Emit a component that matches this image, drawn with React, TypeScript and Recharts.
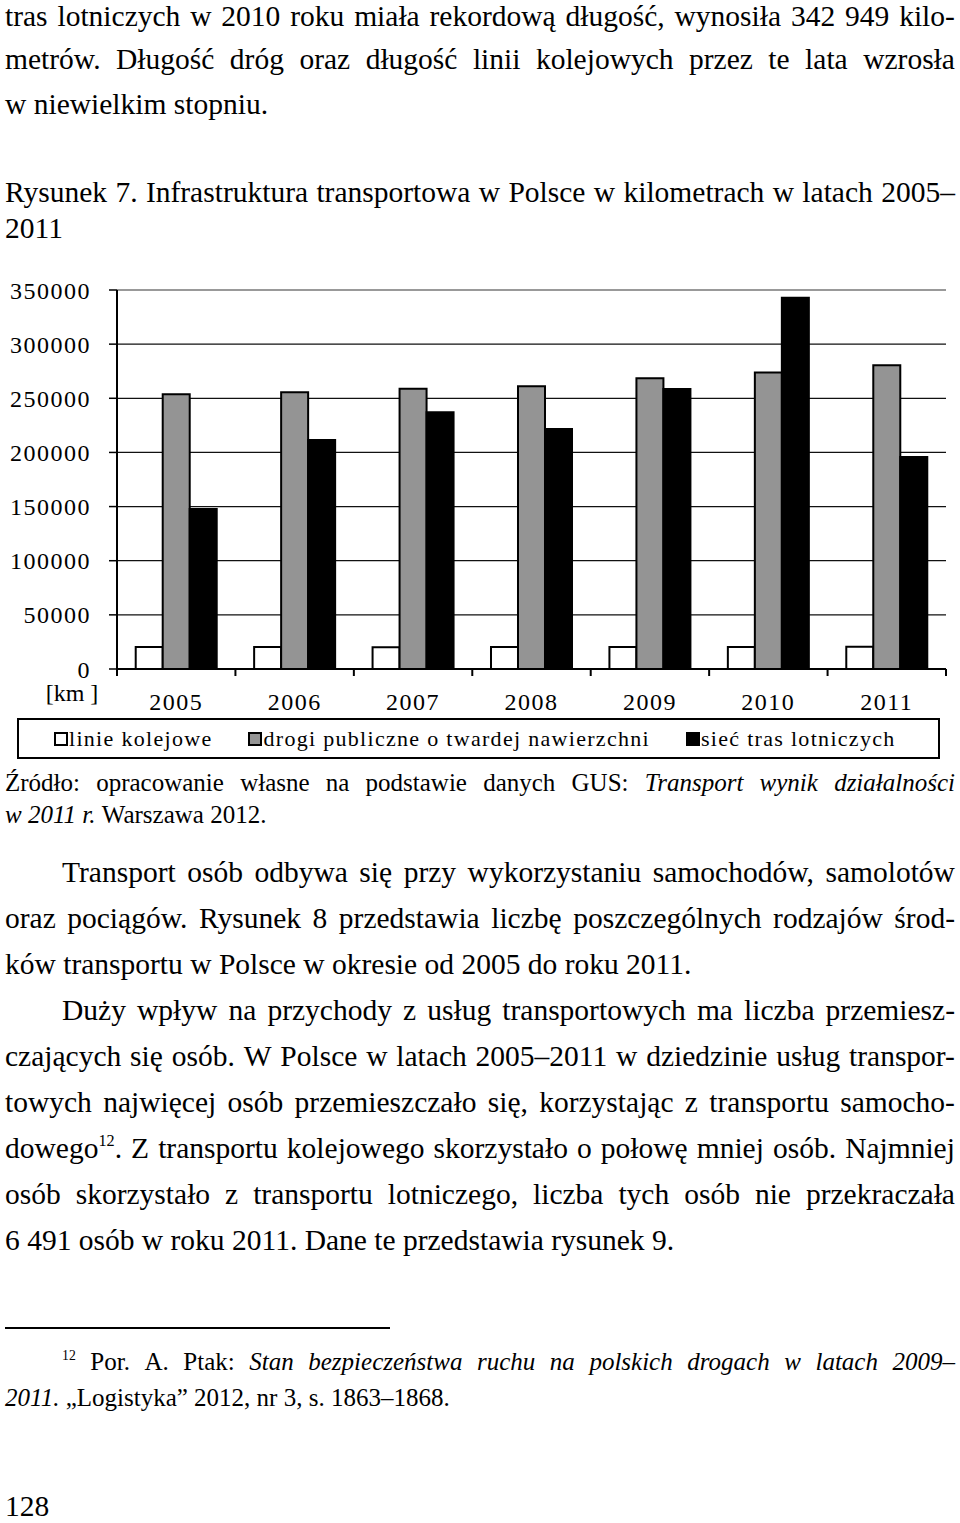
import React from 'react';
import { Bar, BarChart, CartesianGrid, Legend, ReferenceLine, XAxis, YAxis } from 'recharts';

const SERIF = '"Liberation Serif", "Times New Roman", serif';

// chart data (km)
const years = ['2005', '2006', '2007', '2008', '2009', '2010', '2011'];
const railLines = [20400, 20300, 20200, 20300, 20300, 20400, 20500];
const pavedRoads = [253800, 255500, 258900, 261000, 268500, 273800, 280400];
const airRoutes = [147700, 211500, 237000, 221600, 258600, 342949, 195800];
const yTicks = [0, 50000, 100000, 150000, 200000, 250000, 300000, 350000];
const gridValues = [50000, 100000, 150000, 200000, 250000, 300000];
const seriesNames = ['linie kolejowe', 'drogi publiczne o twardej nawierzchni', 'sieć tras lotniczych'];
const seriesColors = ['#ffffff', '#949494', '#000000'];

const data = years.map((year, i) => ({
    year,
    rail: railLines[i],
    roads: pavedRoads[i],
    air: airRoutes[i],
}));

// page text ("_" = italic word, "^..^" = superscript)
const introLines = [
    'tras lotniczych w 2010 roku miała rekordową długość, wynosiła 342 949 kilo-',
    'metrów. Długość dróg oraz długość linii kolejowych przez te lata wzrosła',
    'w niewielkim stopniu.',
];
const captionLines = ['Rysunek 7. Infrastruktura transportowa w Polsce w kilometrach w latach 2005–', '2011'];
const sourceLines = [
    'Źródło: opracowanie własne na podstawie danych GUS: _Transport _wynik _działalności',
    '_w _2011 _r. Warszawa 2012.',
];
const bodyLines = [
    'Transport osób odbywa się przy wykorzystaniu samochodów, samolotów',
    'oraz pociągów. Rysunek 8 przedstawia liczbę poszczególnych rodzajów środ-',
    'ków transportu w Polsce w okresie od 2005 do roku 2011.',
    'Duży wpływ na przychody z usług transportowych ma liczba przemiesz-',
    'czających się osób. W Polsce w latach 2005–2011 w dziedzinie usług transpor-',
    'towych najwięcej osób przemieszczało się, korzystając z transportu samocho-',
    'dowego^12^. Z transportu kolejowego skorzystało o połowę mniej osób. Najmniej',
    'osób skorzystało z transportu lotniczego, liczba tych osób nie przekraczała',
    '6 491 osób w roku 2011. Dane te przedstawia rysunek 9.',
];
const footnoteLines = [
    '^12^ Por. A. Ptak: _Stan _bezpieczeństwa _ruchu _na _polskich _drogach _w _latach _2009–',
    '_2011. „Logistyka” 2012, nr 3, s. 1863–1868.',
];

const X_TICK_SIZE = 6;
const X_TICK_MARGIN = 19;

function Word({ w }: { w: string }) {
    const italic = w.startsWith('_');
    const parts = (italic ? w.slice(1) : w).split('^');
    return (
        <span style={{ fontStyle: italic ? 'italic' : 'normal' }}>
            {parts.map((p, i) =>
                i % 2 ? (
                    <sup key={i} style={{ fontSize: '0.55em', lineHeight: 0, verticalAlign: '0.75em' }}>
                        {p}
                    </sup>
                ) : (
                    <React.Fragment key={i}>{p}</React.Fragment>
                ),
            )}
        </span>
    );
}

interface LineProps {
    text: string;
    cy: number;
    size: number;
    left?: number;
    justify?: boolean;
}

function TextLine({ text, cy, size, left = 5, justify = true }: LineProps) {
    return (
        <div
            style={{
                position: 'absolute',
                left,
                top: cy - size * 0.506,
                width: 955 - left,
                display: 'flex',
                justifyContent: justify ? 'space-between' : 'flex-start',
                columnGap: size * 0.25,
                whiteSpace: 'pre',
                fontFamily: SERIF,
                fontSize: size,
                lineHeight: 1,
                color: '#000',
            }}
        >
            {text.split(' ').map((w, i) => (
                <Word key={i} w={w} />
            ))}
        </div>
    );
}

function YearTick(props: any) {
    const { x, y, payload, index, visibleTicksCount } = props;
    const axisY = y - X_TICK_SIZE - X_TICK_MARGIN;
    const half = payload?.offset ?? 0;
    return (
        <g>
            <line x1={x - half} x2={x - half} y1={axisY} y2={axisY + 7} stroke="#000" strokeWidth={2} />
            {index === visibleTicksCount - 1 && (
                <line x1={x + half} x2={x + half} y1={axisY} y2={axisY + 7} stroke="#000" strokeWidth={2} />
            )}
            <text x={x} y={axisY + 41} textAnchor="middle" fill="#000" fontFamily={SERIF} fontSize={24} letterSpacing={1.5}>
                {payload.value}
            </text>
        </g>
    );
}

function LegendBox({ payload }: any) {
    const items = [...(payload ?? [])].sort(
        (a: any, b: any) => seriesNames.indexOf(a.value) - seriesNames.indexOf(b.value),
    );
    return (
        <div style={{ paddingTop: 4, paddingBottom: 11 }}>
            <div
                style={{
                    marginLeft: 17,
                    width: 923,
                    height: 41,
                    boxSizing: 'border-box',
                    border: '2px solid #000',
                    display: 'flex',
                    alignItems: 'center',
                    paddingLeft: 35,
                    columnGap: 36,
                    fontFamily: SERIF,
                    fontSize: 22,
                    letterSpacing: 1.3,
                    color: '#000',
                }}
            >
                {items.map((entry: any) => (
                    <div key={entry.value} style={{ display: 'flex', alignItems: 'center' }}>
                        <span
                            style={{
                                width: 14,
                                height: 14,
                                boxSizing: 'border-box',
                                border: '2px solid #000',
                                background: seriesColors[seriesNames.indexOf(entry.value)] ?? entry.color,
                                marginRight: 1,
                            }}
                        />
                        <span>{entry.value}</span>
                    </div>
                ))}
            </div>
        </div>
    );
}

function KmLabel({ viewBox }: any) {
    if (!viewBox) return null;
    return (
        <text x={viewBox.x + 72} y={viewBox.y + viewBox.height + 32} textAnchor="middle" fill="#000" fontFamily={SERIF} fontSize={24}>
            [km ]
        </text>
    );
}

function InfrastructureChart() {
    return (
        <BarChart
            width={960}
            height={500}
            data={data}
            margin={{ top: 20, right: 14, bottom: 0, left: 0 }}
            barCategoryGap="15.8%"
            barGap={0}
        >
            <CartesianGrid vertical={false} horizontalValues={gridValues} stroke="#111" strokeWidth={1.2} />
            <XAxis
                dataKey="year"
                interval={0}
                height={45}
                tickLine={false}
                tickSize={X_TICK_SIZE}
                tickMargin={X_TICK_MARGIN}
                axisLine={{ stroke: '#000', strokeWidth: 2 }}
                tick={(p: any) => <YearTick {...p} />}
            />
            <YAxis
                width={117}
                domain={[0, 350000]}
                ticks={yTicks}
                interval={0}
                tickSize={8}
                tickMargin={18}
                tickLine={{ stroke: '#000', strokeWidth: 1.5 }}
                axisLine={{ stroke: '#000', strokeWidth: 2 }}
                tick={{ fill: '#000', fontSize: 24, fontFamily: SERIF, letterSpacing: 1.5 }}
                tickFormatter={(v: number) => String(v)}
                label={{ content: <KmLabel /> }}
            />
            <YAxis
                yAxisId="frame"
                orientation="right"
                width={0}
                domain={[0, 350000]}
                tick={false}
                tickLine={false}
                axisLine={{ stroke: '#999', strokeWidth: 2 }}
            />
            <ReferenceLine y={350000} stroke="#999" strokeWidth={2} />
            <Legend verticalAlign="bottom" align="left" content={<LegendBox />} />
            <Bar dataKey="rail" name={seriesNames[0]} fill={seriesColors[0]} stroke="#000" strokeWidth={2} isAnimationActive={false} />
            <Bar dataKey="roads" name={seriesNames[1]} fill={seriesColors[1]} stroke="#000" strokeWidth={2} isAnimationActive={false} />
            <Bar dataKey="air" name={seriesNames[2]} fill={seriesColors[2]} stroke="#000" strokeWidth={2} isAnimationActive={false} />
        </BarChart>
    );
}

export default function App() {
    const body = 29.5;
    const introY = [17, 60, 105];
    return (
        <div style={{ position: 'absolute', left: 0, top: 0, width: 960, height: 1523, background: '#fff', overflow: 'hidden' }}>
            {introLines.map((t, i) => (
                <TextLine key={t} text={t} cy={introY[i]} size={body} justify={i < introLines.length - 1} />
            ))}
            {captionLines.map((t, i) => (
                <TextLine key={t} text={t} cy={193 + i * 36} size={body} justify={i === 0} />
            ))}
            <div style={{ position: 'absolute', left: 0, top: 270 }}>
                <InfrastructureChart />
            </div>
            {sourceLines.map((t, i) => (
                <TextLine key={t} text={t} cy={783 + i * 32} size={25} justify={i === 0} />
            ))}
            {bodyLines.map((t, i) => (
                <TextLine
                    key={t}
                    text={t}
                    cy={873 + i * 46}
                    size={body}
                    left={i === 0 || i === 3 ? 62 : 5}
                    justify={i !== 2 && i !== 8}
                />
            ))}
            <div style={{ position: 'absolute', left: 5, top: 1327, width: 385, height: 2, background: '#000' }} />
            {footnoteLines.map((t, i) => (
                <TextLine key={t} text={t} cy={1362 + i * 36} size={25} left={i === 0 ? 62 : 5} justify={i === 0} />
            ))}
            <TextLine text="128" cy={1507} size={body} justify={false} />
        </div>
    );
}
